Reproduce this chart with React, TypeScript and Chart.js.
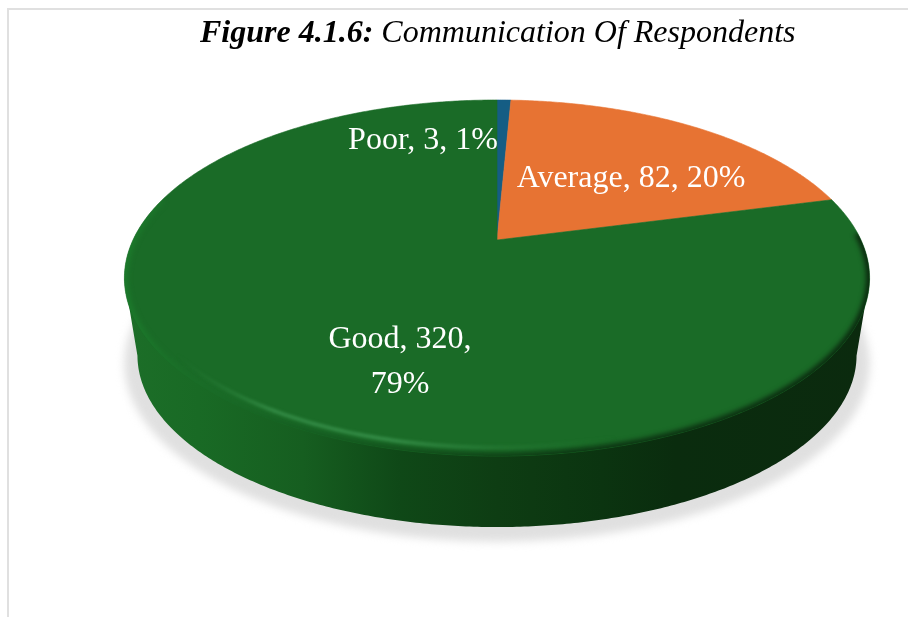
import React, { useEffect, useRef } from "react";
import { Chart, registerables } from "chart.js";

Chart.register(...registerables);

const categories = ["Poor", "Average", "Good"];
const respondents = [3, 82, 320];
const sliceColors = ["#155d84", "#e77333", "#1a6b27"];

// Label text lines and their anchors (centre x, baseline y of first line).
const labelWrap = [1, 1, 2];
const labelAnchors = [
  [423, 149],
  [631, 187],
  [400, 348],
];
const labelFont = '32px "Liberation Serif"';
const labelLineHeight = 45;

const titleBold = "Figure 4.1.6:";
const titleRest = " Communication Of Respondents";

// Perspective of the tilted disc, relative to the library's pie radius.
const WIDTH_RATIO = 2.6;
const HEIGHT_RATIO = 1.2136;
const PERSPECTIVE = 0.2135;
const WALL_DROP = 78.6;
const WALL_SCALE = 0.965;

type Pt = [number, number];

function makeProjector(arc: any) {
  const a = arc.outerRadius * WIDTH_RATIO;
  const b = arc.outerRadius * HEIGHT_RATIO;
  return (angle: number, scale = 1, dy = 0): Pt => {
    const u = Math.cos(angle);
    const v = Math.sin(angle);
    const d = 1 - PERSPECTIVE * v;
    return [arc.x + (scale * a * u) / d, arc.y + dy + (scale * b * v) / d];
  };
}

function ring(project: (a: number, s?: number, d?: number) => Pt, from: number, to: number, scale = 1, dy = 0): Pt[] {
  const steps = Math.max(2, Math.ceil(Math.abs(to - from) / (Math.PI / 360)));
  const out: Pt[] = [];
  for (let i = 0; i <= steps; i++) out.push(project(from + ((to - from) * i) / steps, scale, dy));
  return out;
}

function trace(ctx: CanvasRenderingContext2D, pts: Pt[], move = true) {
  pts.forEach((p, i) => {
    if (i === 0 && move) ctx.moveTo(p[0], p[1]);
    else ctx.lineTo(p[0], p[1]);
  });
}

const discPlugin = {
  id: "tiltedDisc",
  beforeDatasetDraw(chart: any) {
    const ctx: CanvasRenderingContext2D = chart.ctx;
    const arcs = chart.getDatasetMeta(0).data;
    const first = arcs[0];
    const project = makeProjector(first);
    const full = ring(project, 0, Math.PI * 2);

    // soft ground shadow
    ctx.save();
    ctx.filter = "blur(4px)";
    ctx.fillStyle = "#e0e0e0";
    ctx.beginPath();
    trace(ctx, ring(project, 0, Math.PI * 2, 1.0, WALL_DROP + 7));
    ctx.closePath();
    ctx.fill();
    ctx.restore();

    // side wall: lower rim between the silhouette extremes, closed across the face
    const lower = ring(project, 0, Math.PI * 2, WALL_SCALE, WALL_DROP);
    let li = 0;
    let ri = 0;
    lower.forEach((p, i) => {
      if (p[0] < lower[li][0]) li = i;
      if (p[0] > lower[ri][0]) ri = i;
    });
    const front = ring(project, (ri / (lower.length - 1)) * Math.PI * 2, (li / (lower.length - 1)) * Math.PI * 2, WALL_SCALE, WALL_DROP);
    let topL = full[0];
    let topR = full[0];
    full.forEach((p) => {
      if (p[0] < topL[0]) topL = p;
      if (p[0] > topR[0]) topR = p;
    });
    const wall = ctx.createLinearGradient(topL[0], 0, topR[0], 0);
    wall.addColorStop(0, "#1c6e28");
    wall.addColorStop(0.1, "#196a25");
    wall.addColorStop(0.24, "#165e20");
    wall.addColorStop(0.37, "#0f4817");
    wall.addColorStop(0.5, "#0e3d13");
    wall.addColorStop(0.64, "#0b3410");
    wall.addColorStop(0.74, "#0a2c0e");
    wall.addColorStop(1, "#0b2a0e");
    ctx.save();
    ctx.fillStyle = wall;
    ctx.beginPath();
    ctx.moveTo(topR[0], topR[1]);
    trace(ctx, front, false);
    ctx.lineTo(topL[0], topL[1]);
    ctx.closePath();
    ctx.fill();
    ctx.restore();

    // the face, one wedge per arc element
    arcs.forEach((arc: any) => {
      ctx.beginPath();
      ctx.moveTo(arc.x, arc.y);
      trace(ctx, ring(project, arc.startAngle, arc.endAngle), false);
      ctx.closePath();
      ctx.fillStyle = arc.options.backgroundColor;
      ctx.strokeStyle = arc.options.backgroundColor;
      ctx.lineWidth = 0.6;
      ctx.fill();
      ctx.stroke();
    });

    // bevel along the near edge of the face
    ctx.save();
    ctx.beginPath();
    trace(ctx, full);
    ctx.closePath();
    ctx.clip();

    const shade = ctx.createLinearGradient(topL[0], 0, topR[0], 0);
    shade.addColorStop(0, "rgba(28,125,44,0.9)");
    shade.addColorStop(0.1, "rgba(26,110,40,0.6)");
    shade.addColorStop(0.22, "rgba(20,90,32,0.7)");
    shade.addColorStop(0.4, "rgba(16,72,24,0.9)");
    shade.addColorStop(0.6, "rgba(12,52,18,1)");
    shade.addColorStop(1, "rgba(10,40,14,1)");
    ctx.filter = "blur(2.5px)";
    ctx.strokeStyle = shade;
    ctx.lineWidth = 7;
    ctx.beginPath();
    trace(ctx, ring(project, -0.04, Math.PI + 0.25));
    ctx.stroke();

    const shine = ctx.createLinearGradient(topL[0], 0, topR[0], 0);
    shine.addColorStop(0, "rgba(40,125,55,0)");
    shine.addColorStop(0.07, "rgba(40,125,55,0)");
    shine.addColorStop(0.2, "rgba(60,150,80,0.75)");
    shine.addColorStop(0.36, "rgba(60,150,80,0.8)");
    shine.addColorStop(0.52, "rgba(45,130,60,0.4)");
    shine.addColorStop(0.66, "rgba(40,125,55,0)");
    shine.addColorStop(1, "rgba(40,125,55,0)");
    ctx.filter = "blur(1.5px)";
    ctx.strokeStyle = shine;
    ctx.lineWidth = 3.5;
    ctx.beginPath();
    trace(ctx, ring(project, 0.3, Math.PI, 0.97, -2));
    ctx.stroke();
    ctx.restore();

    return false;
  },
  afterDraw(chart: any) {
    const ctx: CanvasRenderingContext2D = chart.ctx;
    const total = respondents.reduce((s, v) => s + v, 0);
    ctx.save();
    ctx.textBaseline = "alphabetic";
    ctx.fillStyle = "#ffffff";
    ctx.font = labelFont;
    ctx.textAlign = "center";
    categories.forEach((name, i) => {
      const pct = `${Math.round((respondents[i] / total) * 100)}%`;
      const lines = labelWrap[i] === 2 ? [`${name}, ${respondents[i]},`, pct] : [`${name}, ${respondents[i]}, ${pct}`];
      lines.forEach((line, j) => {
        ctx.fillText(line, labelAnchors[i][0], labelAnchors[i][1] + j * labelLineHeight);
      });
    });

    // heading with a bold lead-in
    ctx.fillStyle = "#000000";
    ctx.textAlign = "left";
    const boldFont = 'italic bold 32px "Liberation Serif"';
    const restFont = 'italic 32px "Liberation Serif"';
    ctx.font = boldFont;
    const boldW = ctx.measureText(titleBold).width;
    ctx.fillText(titleBold, 200, 42);
    ctx.font = restFont;
    ctx.fillText(titleRest, 200 + boldW, 42);
    ctx.restore();
  },
};

export default function App() {
  const ref = useRef<HTMLCanvasElement>(null);
  useEffect(() => {
    const chart = new Chart(ref.current!, {
      type: "pie",
      data: {
        labels: categories,
        datasets: [{ data: respondents, backgroundColor: sliceColors, borderWidth: 0 }],
      },
      options: {
        responsive: false,
        animation: false,
        layout: { padding: { left: 86, right: 0, top: 100, bottom: 237 } },
        plugins: { legend: { display: false }, tooltip: { enabled: false }, title: { display: false } },
      },
      plugins: [discPlugin],
    } as any);
    return () => chart.destroy();
  }, []);
  return (
    <div style={{ position: "fixed", left: 0, top: 0, width: 908, height: 617, background: "#fff", overflow: "hidden" }}>
      <div
        style={{
          position: "absolute",
          left: 7,
          top: 8,
          width: 901,
          height: 609,
          borderTop: "2px solid #e0e0e0",
          borderLeft: "2px solid #e0e0e0",
        }}
      />
      <canvas ref={ref} width={908} height={617} style={{ position: "absolute", left: 0, top: 0, display: "block" }} />
    </div>
  );
}
